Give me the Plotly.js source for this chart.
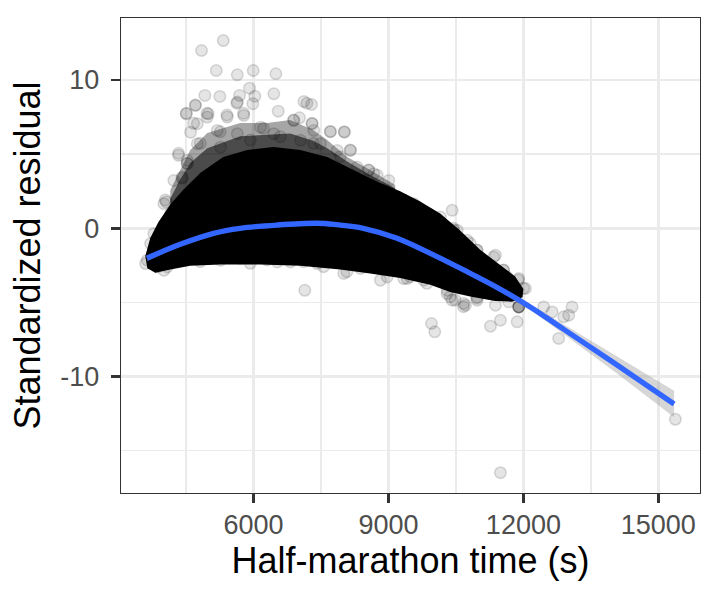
<!DOCTYPE html>
<html>
<head>
<meta charset="utf-8">
<script src="https://cdn.plot.ly/plotly-3.0.1.min.js"></script>
<style>
  html, body { margin: 0; padding: 0; background: #ffffff; }
  #graph { width: 720px; height: 600px; }
</style>
</head>
<body>
<div id="graph"></div>
<script>
// Values (x = half-marathon time in s, y = standardized residual).

// The big solid black cloud, as its outline (upper edge left->right, then lower edge right->left)
const coreTime  = [3593, 3704, 3882, 4149, 4438, 4815, 5326, 5860, 6437, 7038, 7638, 8215, 8704, 9260, 9705, 10149, 10593, 11038, 11482, 11816, 12000,
                   11980, 11749, 11371, 10816, 10371, 9927, 9260, 8593, 7927, 7038, 6149, 5260, 4593, 4149, 3816, 3638];
const coreResid = [-1.87, -0.65, 0.40, 1.60, 2.60, 3.73, 4.81, 5.28, 5.48, 5.28, 4.81, 3.93, 3.20, 2.50, 1.80, 1.00, -0.15, -1.45, -2.45, -3.25, -4.10,
                   -4.65, -4.95, -4.90, -4.60, -4.30, -3.80, -3.35, -3.05, -2.78, -2.52, -2.45, -2.45, -2.52, -2.78, -3.00, -2.70];

// Grey zone above the cloud where points still overlap a lot (outer edge, then a darker inner one)
const haloTime   = [4149, 4371, 4593, 4971, 5704, 6304, 6815, 7326, 7638, 8082, 8593, 9149, 9149, 4149];
const haloResid  = [2.58, 3.93, 5.28, 6.42, 7.10, 7.10, 7.30, 6.63, 5.95, 4.80, 3.93, 2.92, 1.00, 1.00];
const innerTime  = [4149, 4371, 4593, 4971, 5704, 6304, 6815, 7326, 7638, 8082, 8593, 9149, 9149, 4149];
const innerResid = [2.00, 3.30, 4.40, 5.40, 6.20, 6.30, 6.40, 5.90, 5.40, 4.50, 3.60, 2.70, 1.00, 1.00];

// Single runners that can be seen on their own (outliers and the fuzzy rim)
const ptTime = [
  5327, 4844, 5171, 5638, 5993, 6496, 5911, 6451, 4918, 5251, 5689, 6029, 4711, 5638, 5984, 7118, 7289,
  4504, 4993, 5416, 5784, 6549, 7022, 7711, 4600, 7304, 8022, 8156, 4333, 4060, 4527, 4416,
  8562, 8749, 9007, 9340, 9562, 10416, 10156, 10444, 11378, 11562, 11896, 12044,
  11896, 11896, 11896, 11896, 11378, 11673, 11489, 11267, 11860, 12451, 12638, 12896, 13082, 13007, 12784,
  9956, 10029, 15378, 11489, 10416, 10711, 10971, 7140, 3600,
  4749, 4971, 6156, 6896, 5193, 5638, 6451, 7044, 7340, 4749, 5267, 7489, 7860, 4527, 8304, 8673,
  4229, 4156, 3784, 3638, 3860, 4082, 4007, 4304, 3711, 4007, 5267, 5711, 6527, 6822, 7416, 8007,
  8378, 8822, 9340, 9784, 10304, 10526, 10749, 10971, 11340, 11638, 10304, 10673, 10971, 8971, 9416,
  4333, 4038, 4505, 4704, 4667, 4965, 5409, 5778, 5260, 6222, 6889, 7298, 7704, 8015, 8149, 8556,
  4520, 4409, 7187, 5631, 4815, 5927, 6593, 7333, 7927,
  9630, 9853, 10444, 10815, 10965, 11556, 11889, 12000,
  9482, 9853, 10371, 10482, 10667, 10965,
  4371, 4815, 5927, 6298, 7111, 7556, 8075
];
const ptResid = [
  12.66, 11.99, 10.64, 10.35, 10.64, 10.42, 9.45, 9.07, 8.96, 8.89, 8.96, 8.91, 8.28, 8.51, 8.40, 8.55, 8.35,
  7.72, 7.72, 7.50, 7.61, 7.90, 7.45, 6.53, 6.48, 7.05, 6.48, 5.25, 4.92, 1.77, 4.36, 3.45,
  3.91, 3.57, 3.23, 1.89, 1.66, 1.21, 0.76, 0.00, -1.82, -2.83, -3.39, -4.06,
  -5.30, -5.30, -5.30, -5.30, -5.19, -4.96, -6.20, -6.60, -6.31, -5.30, -5.64, -5.97, -5.30, -5.86, -7.43,
  -6.42, -6.98, -12.88, -16.48, -4.85, -5.19, -4.85, -4.18, -2.38,
  7.05, 7.50, 6.82, 7.27, 6.60, 6.38, 6.38, 5.93, 6.60, 5.70, 5.47, 5.70, 5.25, 4.58, 4.13, 3.68,
  3.23, 0.99, -0.36, -2.15, -2.61, -2.61, 1.66, 1.43, -1.03, -2.83, -2.15, -2.04, -2.27, -2.27, -2.38, -3.05,
  -2.71, -3.50, -3.39, -3.50, -4.40, -0.13, -0.81, -1.48, -1.93, -3.28, -4.18, -5.07, -4.63, -3.28, -3.39,
  5.06, 1.91, 7.75, 8.31, 7.08, 7.75, 7.64, 7.75, 6.51, 6.74, 7.30, 7.08, 6.51, 6.51, 5.28, 3.93,
  4.38, 3.37, 8.43, 8.43, 5.73, 5.95, 6.18, 5.73, 4.83,
  1.46, 0.90, -0.11, -1.01, -1.46, -2.81, -3.49, -4.05,
  -3.26, -3.71, -4.61, -4.83, -5.29, -4.72,
  -2.14, -2.25, -2.36, -2.14, -2.25, -2.59, -2.93
];

// The smoother (blue line) and its confidence band
const smoothTime = [3630, 4370, 5110, 5700, 6520, 7410, 7850, 8440, 9190, 9930, 10670, 11410, 12150, 12890, 14000, 15350];
const smoothFit  = [-2.02, -1.08, -0.34, 0.00, 0.22, 0.34, 0.24, 0.00, -0.67, -1.69, -2.81, -3.98, -5.30, -6.80, -9.05, -11.85];
const smoothLo   = [-2.22, -1.18, -0.40, -0.05, 0.17, 0.29, 0.19, -0.05, -0.72, -1.75, -2.89, -4.10, -5.47, -7.12, -9.60, -12.75];
const smoothHi   = [-1.82, -0.98, -0.28, 0.05, 0.27, 0.39, 0.29, 0.05, -0.62, -1.63, -2.73, -3.86, -5.13, -6.48, -8.50, -10.95];

// Axis ticks
const timeTicks = [6000, 9000, 12000, 15000];
const timeTickText = ['6000', '9000', '12000', '15000'];
const timeMinor = [4500, 7500, 10500, 13500];
const residTicks = [-10, 0, 10];
const residTickText = ['-10', '0', '10'];
const residMinor = [-15, -5, 5];

const FONT = 'Liberation Sans, Arial, Helvetica, sans-serif';
const GRID = '#EBEBEB';
const INK = '#333333';

plot();

function polygon(xs, ys, fillcolor) {
    return {
        x: xs, y: ys,
        type: 'scatter', mode: 'lines', fill: 'toself',
        fillcolor: fillcolor, line: { width: 0 },
        hoverinfo: 'skip'
    };
}

function plot() {
    const halo = polygon(haloTime, haloResid, 'rgba(0,0,0,0.35)');
    const inner = polygon(innerTime, innerResid, 'rgba(0,0,0,0.55)');
    const core = polygon(coreTime, coreResid, '#000000');

    const points = {
        x: ptTime, y: ptResid,
        type: 'scatter', mode: 'markers',
        marker: {
            size: 11.5,
            color: 'rgba(0,0,0,0.1)',
            line: { color: 'rgba(0,0,0,0.14)', width: 1.5 }
        }
    };

    // band polygon: upper edge forward, lower edge back
    const band = polygon(
        smoothTime.concat(smoothTime.slice().reverse()),
        smoothHi.concat(smoothLo.slice().reverse()),
        'rgba(153,153,153,0.4)'
    );

    const smooth = {
        x: smoothTime, y: smoothFit,
        type: 'scatter', mode: 'lines',
        line: { color: '#3366FF', width: 5.3, shape: 'spline' }
    };

    const axisCommon = {
        showgrid: true, gridcolor: GRID, gridwidth: 2.6,
        zeroline: false,
        showline: true, linecolor: INK, linewidth: 1.3, mirror: true,
        ticks: 'outside', ticklen: 9, tickwidth: 2.6, tickcolor: INK,
        tickfont: { family: FONT, size: 27, color: '#4D4D4D' },
        automargin: false
    };

    const layout = {
        width: 720, height: 600,
        margin: { l: 121, r: 20, t: 18, b: 107, pad: 0 },
        paper_bgcolor: '#ffffff', plot_bgcolor: '#ffffff',
        showlegend: false,
        font: { family: FONT },
        xaxis: Object.assign({}, axisCommon, {
            range: [3053, 15926],
            automargin: true,   // needed so the title standoff is honoured
            ticklabelstandoff: -2,
            tickmode: 'array', tickvals: timeTicks, ticktext: timeTickText,
            minor: { tickmode: 'array', tickvals: timeMinor, showgrid: true, gridcolor: GRID, gridwidth: 1.3, ticks: '' },
            title: { text: 'Half-marathon time (s)', font: { family: FONT, size: 36, color: '#000000' }, standoff: 8 }
        }),
        yaxis: Object.assign({}, axisCommon, {
            range: [-17.85, 14.18],
            ticklabelstandoff: 6,
            tickmode: 'array', tickvals: residTicks, ticktext: residTickText,
            minor: { tickmode: 'array', tickvals: residMinor, showgrid: true, gridcolor: GRID, gridwidth: 1.3, ticks: '' },
            title: { text: 'Standardized residual', font: { family: FONT, size: 36, color: '#000000' }, standoff: 8 }
        })
    };

    Plotly.newPlot('graph', [halo, inner, core, points, band, smooth], layout, { displayModeBar: false, staticPlot: true });
}
</script>
</body>
</html>
